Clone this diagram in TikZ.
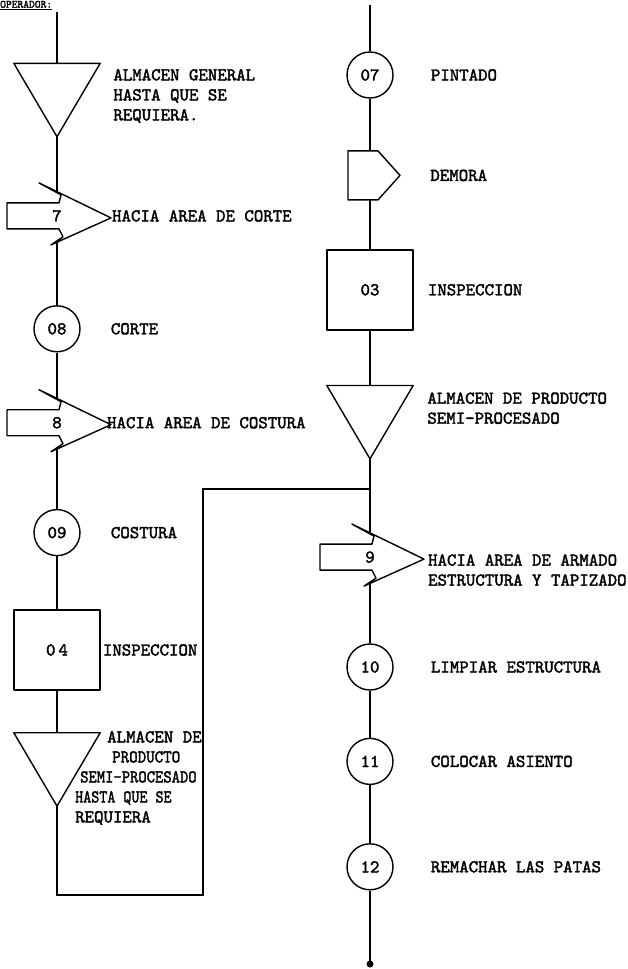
\documentclass[tikz,border=0pt]{standalone}
\usepackage{graphicx}
\usepackage{fontspec}
\newfontfamily\tipo{lmmono10-regular.otf}[FakeBold=2]
\usepackage{tikz}
\usetikzlibrary{positioning, calc}

\begin{document}
\begin{tikzpicture}[
    x=1pt, y=-1pt,
    font=\fontsize{18}{20}\selectfont\tipo,
    base/.style={draw=black, line width=1.4pt, line join=round},
    operacion/.style={circle, base, minimum size=46pt, inner sep=0pt},
    inspeccion/.style={rectangle, base, minimum width=86pt, minimum height=80pt, inner sep=0pt},
    almacen/.style={rectangle, minimum width=86pt, minimum height=73pt, inner sep=0pt,
        append after command={\pgfextra{\draw[base] (\tikzlastnode.north west) -- (\tikzlastnode.north east) -- (\tikzlastnode.south) -- cycle;}}},
    demora/.style={rectangle, minimum width=44pt, minimum height=49pt, inner sep=0pt,
        append after command={\pgfextra{\draw[base, shift={(\tikzlastnode.center)}] (-22,-24.5) -- (8,-24.5) -- (30,0) -- (8,24.5) -- (-22,24.5) -- cycle;}}},
    transporte/.style={rectangle, minimum width=2pt, minimum height=50pt, inner sep=0pt,
        append after command={\pgfextra{\draw[base, shift={(\tikzlastnode.center)}] (2,-13) -- (-50,-13) -- (-50,13) -- (2,13) -- (6,21) -- (-6,29) -- (54,2) -- (-18,-33) -- (4,-21) -- cycle;}}},
    txt/.style={inner sep=0pt, align=left},
    line/.style={draw=black, line width=1.4pt}
]
    \useasboundingbox (0,0) rectangle (628,969);

    % left column
    \node[inner sep=0pt, anchor=south west, font=\fontsize{11}{12}\selectfont\tipo] (titulo) at (0,10) {\underline{OPERADOR:}};
    \coordinate (in1) at (57,12);
    \node[almacen] (alm1) at (57,100) {};
    \node[transporte, below=54pt of alm1] (t7) {7};
    \node[operacion, below=64pt of t7] (c08) {08};
    \node[transporte, below=45pt of c08] (t8) {8};
    \node[operacion, below=61pt of t8] (c09) {09};
    \node[inspeccion, below=53pt of c09] (b04) {0\,4};
    \node[almacen, below=42pt of b04] (alm2) {};
    \coordinate (esq) at (203,895);

    \node[txt, right=13pt of alm1, yshift=4pt] {ALMACEN GENERAL\\HASTA QUE SE\\REQUIERA.};
    \node[txt, right=50pt of t7] {HACIA AREA DE CORTE};
    \node[txt, right=30pt of c08] {CORTE};
    \node[txt, right=45pt of t8] {HACIA AREA DE COSTURA};
    \node[txt, right=30pt of c09] {COSTURA};
    \node[txt, right=2pt of b04] {INSPECCION};
    \node[txt, anchor=north west] at (75,731) {\hspace*{32pt}ALMACEN DE\\\hspace*{37pt}\scalebox{0.9}[1]{PRODUCTO}\\\hspace*{5pt}\scalebox{0.88}[1]{SEMI-PROCESADO}\\\scalebox{0.85}[1]{HASTA QUE SE}\\REQUIERA};

    % right column
    \coordinate (in2) at (370,5);
    \node[operacion] (c07) at (370,75) {07};
    \node[demora, below=52pt of c07] (del) {};
    \node[inspeccion, below=49pt of del] (b03) {03};
    \node[almacen, below=55pt of b03] (alm3) {};
    \coordinate (union) at (370,489);
    \node[transporte, below=73pt of alm3] (t9) {9};
    \node[operacion, below=61pt of t9] (c10) {10};
    \node[operacion, below=47pt of c10] (c11) {11};
    \node[operacion, below=58pt of c11] (c12) {12};
    \coordinate (fin) at (370,964);

    \node[txt, right=37pt of c07] {PINTADO};
    \node[txt, right=38pt of del] {DEMORA};
    \node[txt, right=14pt of b03] {INSPECCION};
    \node[txt, right=14pt of alm3, yshift=14pt] {ALMACEN DE PRODUCTO\\SEMI-PROCESADO};
    \node[txt, right=53pt of t9, yshift=-13pt] {HACIA AREA DE ARMADO\\ESTRUCTURA Y TAPIZADO};
    \node[txt, right=37pt of c10] {LIMPIAR ESTRUCTURA};
    \node[txt, right=37pt of c11] {COLOCAR ASIENTO};
    \node[txt, right=37pt of c12] {REMACHAR LAS PATAS};

    % Connectors
    \draw[line] (in1) -- (alm1);
    \draw[line] (alm1) -- (t7);
    \draw[line] (t7) -- (c08);
    \draw[line] (c08) -- (t8);
    \draw[line] (t8) -- (c09);
    \draw[line] (c09) -- (b04);
    \draw[line] (b04) -- (alm2);
    \draw[line] (alm2) |- (esq) |- (union);
    \draw[line] (in2) -- (c07);
    \draw[line] (c07) -- (del);
    \draw[line] (del) -- (b03);
    \draw[line] (b03) -- (alm3);
    \draw[line] (alm3) -- (union) -- (t9);
    \draw[line] (t9) -- (c10);
    \draw[line] (c10) -- (c11);
    \draw[line] (c11) -- (c12);
    \draw[line] (c12) -- (fin);
    \fill (fin) circle (3.5pt);
\end{tikzpicture}
\end{document}
